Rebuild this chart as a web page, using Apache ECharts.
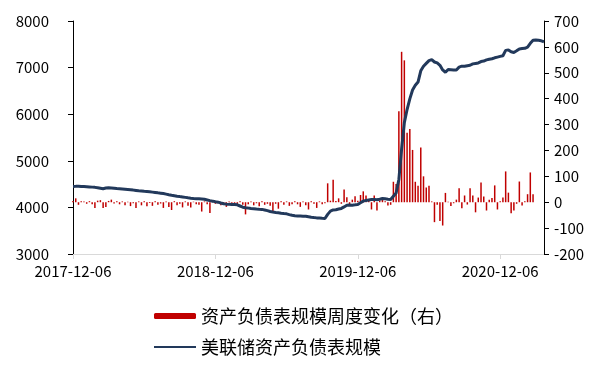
<!DOCTYPE html>
<html>
<head>
<meta charset="utf-8">
<script src="https://cdn.jsdelivr.net/npm/echarts@6/dist/echarts.min.js"></script>
<style>
html, body { margin: 0; padding: 0; background: #fff; }
#main { width: 604px; height: 368px; }
</style>
</head>
<body>
<div id="main"></div>
<script>
// 周度数据，起点 2017-12-06
var startDate = '2017-12-06';
var xTickLabels = ['2017-12-06', '2018-12-06', '2019-12-06', '2020-12-06'];
var xTickIndex = [0, 52, 104, 156];

// 美联储资产负债表规模（左轴）
var lineValues = [
	4450, 4452, 4455, 4450, 4448, 4445, 4440, 4435, 4430, 4420,
	4410, 4400, 4415, 4420, 4418, 4412, 4405, 4400, 4395, 4390,
	4385, 4380, 4372, 4365, 4358, 4352, 4345, 4340, 4335, 4328,
	4320, 4312, 4305, 4297, 4285, 4272, 4260, 4250, 4240, 4232,
	4225, 4215, 4205, 4198, 4192, 4188, 4185, 4180, 4175, 4160,
	4145, 4134, 4120, 4112, 4095, 4080, 4070, 4065, 4062, 4060,
	4055, 4030, 4005, 3993, 3985, 3978, 3972, 3965, 3960, 3957,
	3945, 3930, 3912, 3900, 3892, 3885, 3875, 3868, 3862, 3845,
	3830, 3820, 3818, 3815, 3812, 3810, 3800, 3790, 3782, 3775,
	3770, 3765, 3762, 3850, 3920, 3945, 3950, 3965, 3978, 4010,
	4045, 4050, 4048, 4055, 4063, 4100, 4134, 4150, 4160, 4170,
	4168, 4163, 4175, 4190, 4185, 4175, 4170, 4240, 4310, 4600,
	5250, 5820, 6100, 6330, 6520, 6620, 6690, 6930, 7030, 7090,
	7150, 7170, 7120, 7100, 7050, 6950, 6900, 6960, 6955, 6950,
	6950, 7010, 7030, 7030, 7040, 7050, 7080, 7090, 7100, 7130,
	7140, 7165, 7180, 7190, 7210, 7225, 7240, 7255, 7370, 7380,
	7340, 7325, 7360, 7400, 7410, 7415, 7440, 7520, 7585, 7590,
	7585, 7575, 7555
];

// 资产负债表规模周度变化（右轴）
var barValues = [
	5, 15, -10, 4, 3, -6, 4, -8, -22, 6,
	8, -22, -18, 5, 10, -5, 4, -8, 3, -12,
	2, -15, -4, -22, 3, -12, 4, -16, -3, -14,
	4, -10, -5, -22, 3, -18, -30, 4, -12, -6,
	-20, 3, -14, -20, 2, -8, -10, -36, 3, -8,
	-42, 4, -6, 5, -12, -4, -18, 3, -10, -6,
	-12, 4, -10, -47, -8, 3, -12, -4, -16, 4,
	-10, -6, -14, -35, -6, -25, 4, -10, 3, -14,
	-8, 4, -8, -18, 3, -12, -28, 4, -6, -22,
	3, -8, -4, 73, 6, 87, 5, 15, -6, 49,
	19, -10, 10, 23, 6, 28, 42, 26, 8, -28,
	26, -32, 6, 12, 4, -13, -10, 79, 70, 351,
	581, 548, 268, 283, 202, 79, 64, 211, 100, 57,
	64, 3, -77, -10, -73, -90, 36, 2, -15, -4,
	10, 54, -23, 26, -9, 54, 26, -39, 18, 76,
	22, -32, 10, 16, 65, -28, 4, 18, 119, 37,
	-43, -32, -6, 80, -13, 4, 31, 115, 31, null,
	null, null, null
];

function weeklyDates(start, n) {
	var res = [];
	var t = new Date(start + 'T00:00:00Z').getTime();
	for (var i = 0; i < n; i++) {
		res.push(new Date(t + i * 7 * 86400000).toISOString().slice(0, 10));
	}
	return res;
}

var categories = weeklyDates(startDate, lineValues.length);

function isTick(index) {
	return xTickIndex.indexOf(index) >= 0;
}

var font = 'Noto Sans CJK SC';
var myChart = echarts.init(document.getElementById('main'));
var option = {
	animation: false,
	textStyle: { fontFamily: font },
	grid: { left: 73, right: 60, top: 21, bottom: 114 },
	legend: {
		orient: 'vertical',
		left: 148,
		top: 302,
		itemWidth: 42,
		itemHeight: 6,
		itemGap: 13,
		textStyle: { fontSize: 18, color: '#000', fontFamily: font },
		data: [
			'资产负债表规模周度变化（右）',
			{ name: '美联储资产负债表规模', itemStyle: { opacity: 0 } }
		]
	},
	xAxis: {
		type: 'category',
		data: categories,
		boundaryGap: false,
		axisLine: { onZero: false, lineStyle: { color: '#d9d9d9', width: 1 } },
		axisTick: { interval: isTick, length: 5, lineStyle: { color: '#d9d9d9' } },
		axisLabel: {
			interval: isTick,
			color: '#000',
			fontSize: 15,
			margin: 10,
			formatter: function(value) {
				var idx = categories.indexOf(value);
				return xTickLabels[xTickIndex.indexOf(idx)];
			}
		},
		splitLine: { show: false }
	},
	yAxis: [{
		type: 'value',
		min: 3000,
		max: 8000,
		interval: 1000,
		axisLine: { show: true, lineStyle: { color: '#000', width: 1 } },
		axisTick: { show: true, length: 5, lineStyle: { color: '#000' } },
		axisLabel: {
			color: '#000',
			fontSize: 15,
			margin: 24,
			formatter: function(v) { return String(v); }
		},
		splitLine: { show: false }
	}, {
		type: 'value',
		min: -200,
		max: 700,
		interval: 100,
		position: 'right',
		axisLine: { show: true, lineStyle: { color: '#000', width: 1 } },
		axisTick: { show: true, length: 5, lineStyle: { color: '#000' } },
		axisLabel: { color: '#000', fontSize: 15, margin: 10 },
		splitLine: { show: false }
	}],
	series: [{
		name: '资产负债表规模周度变化（右）',
		type: 'bar',
		yAxisIndex: 1,
		data: barValues,
		barWidth: 1.5,
		itemStyle: { color: '#c00000' }
	}, {
		name: '美联储资产负债表规模',
		type: 'line',
		yAxisIndex: 0,
		data: lineValues,
		symbol: 'none',
		lineStyle: { color: '#22395b', width: 3 },
		itemStyle: { color: '#22395b' }
	}]
};
myChart.setOption(option);
window.addEventListener('resize', function() {
	myChart.resize();
});
</script>
</body>
</html>
